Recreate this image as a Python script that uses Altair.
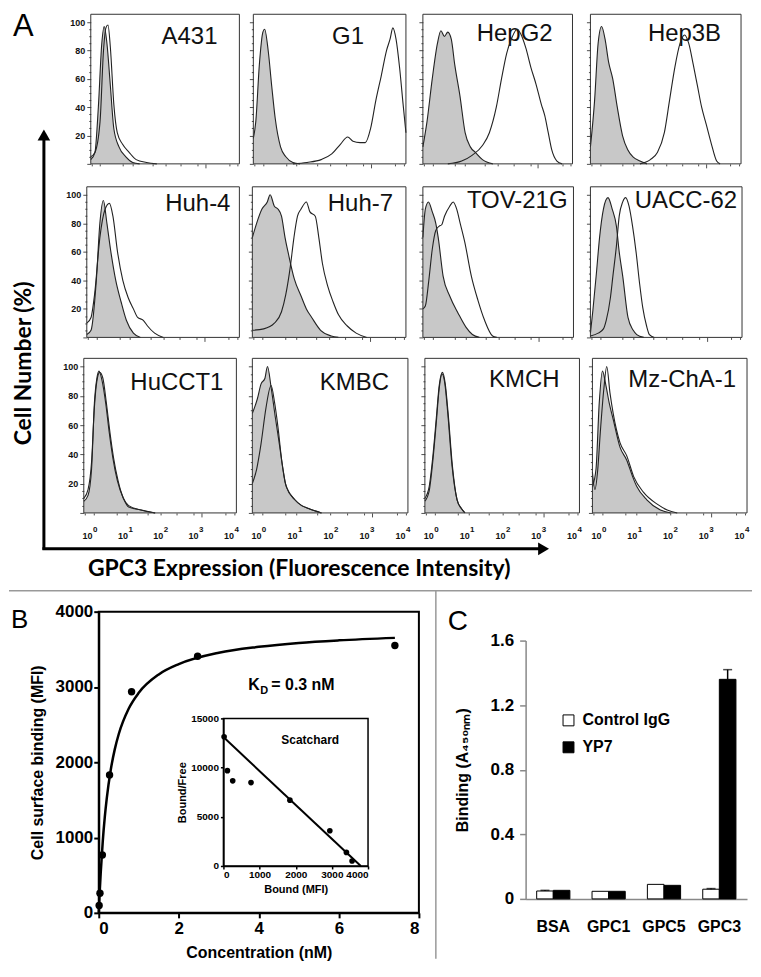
import math
import altair as alt
import pandas as pd

SANS = "Liberation Sans"
CAL = "Lato"

# ---------------- Panel A: flow histograms (x = log10 fluorescence, y = % of max)
A431_CTRL = [(-0.32, 3), (-0.2, 8), (-0.1, 40), (0.0, 85), (0.07, 97), (0.15, 85), (0.25, 55), (0.35, 25), (0.5, 12), (0.7, 5), (0.9, 1), (1.1, 0)]
A431_GPC3 = [(-0.32, 5), (-0.2, 8), (-0.05, 30), (0.05, 80), (0.12, 96), (0.18, 98), (0.25, 82), (0.35, 42), (0.45, 22), (0.6, 14), (0.8, 8), (1.0, 3), (1.3, 1), (1.6, 0)]
G1_CTRL = [(-0.32, 18), (-0.25, 30), (-0.15, 70), (-0.05, 93), (0.0, 95), (0.1, 80), (0.2, 55), (0.3, 32), (0.45, 12), (0.6, 5), (0.8, 1), (1.0, 0)]
G1_GPC3 = [(0.8, 0), (1.2, 1), (1.6, 3), (1.9, 7), (2.15, 14), (2.35, 19), (2.5, 16), (2.7, 15), (2.85, 15), (3.0, 25), (3.15, 45), (3.3, 62), (3.45, 80), (3.55, 88), (3.63, 96), (3.72, 88), (3.82, 68), (3.92, 42), (4.0, 22)]
HEPG2_CTRL = [(-0.32, 12), (-0.2, 30), (-0.05, 60), (0.1, 85), (0.2, 94), (0.3, 90), (0.4, 93), (0.5, 88), (0.6, 70), (0.75, 48), (0.9, 22), (1.05, 12), (1.2, 8), (1.4, 3), (1.7, 0)]
HEPG2_GPC3 = [(0.4, 0), (0.8, 2), (1.1, 6), (1.4, 13), (1.6, 22), (1.8, 40), (1.95, 60), (2.1, 78), (2.25, 89), (2.4, 95), (2.5, 92), (2.65, 82), (2.8, 68), (2.95, 56), (3.1, 42), (3.2, 34), (3.3, 22), (3.4, 10), (3.55, 2), (3.7, 0)]
HEP3B_CTRL = [(-0.32, 12), (-0.2, 45), (-0.1, 85), (0.0, 97), (0.1, 88), (0.2, 72), (0.32, 60), (0.45, 40), (0.6, 20), (0.75, 10), (0.9, 5), (1.1, 2), (1.3, 0)]
HEP3B_GPC3 = [(1.1, 0), (1.4, 3), (1.6, 8), (1.8, 22), (1.95, 45), (2.1, 68), (2.25, 85), (2.38, 91), (2.5, 85), (2.63, 70), (2.75, 55), (2.87, 40), (3.0, 28), (3.15, 14), (3.3, 2), (3.4, 0)]
HUH4_CTRL = [(-0.32, 2), (-0.2, 5), (-0.05, 40), (0.05, 80), (0.15, 96), (0.25, 80), (0.35, 62), (0.5, 40), (0.65, 25), (0.8, 12), (1.0, 3), (1.2, 0)]
HUH4_GPC3 = [(-0.32, 10), (-0.2, 14), (-0.1, 30), (0.05, 70), (0.2, 90), (0.32, 94), (0.42, 85), (0.55, 60), (0.7, 40), (0.85, 28), (1.0, 20), (1.12, 14), (1.28, 12), (1.4, 8), (1.6, 3), (1.85, 0)]
HUH7_CTRL = [(-0.32, 70), (-0.2, 80), (-0.05, 90), (0.1, 95), (0.18, 100), (0.3, 92), (0.4, 90), (0.5, 85), (0.6, 70), (0.7, 58), (0.86, 41), (1.05, 29), (1.2, 20), (1.35, 14), (1.6, 5), (1.9, 1), (2.1, 0)]
HUH7_GPC3 = [(-0.32, 5), (0.0, 6), (0.3, 10), (0.5, 18), (0.62, 30), (0.75, 50), (0.85, 70), (0.95, 85), (1.05, 90), (1.2, 95), (1.3, 88), (1.45, 85), (1.55, 70), (1.65, 52), (1.8, 36), (1.95, 25), (2.1, 16), (2.35, 8), (2.6, 3), (2.9, 0)]
TOV_CTRL = [(-0.32, 70), (-0.25, 90), (-0.16, 95), (-0.05, 88), (0.05, 80), (0.12, 70), (0.26, 43), (0.45, 29), (0.69, 17), (0.92, 7), (1.1, 2), (1.3, 0)]
TOV_GPC3 = [(-0.32, 20), (-0.25, 22), (-0.15, 40), (-0.05, 62), (0.05, 75), (0.15, 78), (0.22, 79), (0.3, 85), (0.45, 92), (0.55, 95), (0.65, 90), (0.75, 80), (0.88, 67), (1.07, 43), (1.26, 26), (1.45, 12), (1.68, 1), (1.8, 0)]
UACC_CTRL = [(-0.32, 3), (-0.25, 19), (-0.15, 45), (-0.06, 70), (0.05, 90), (0.18, 98), (0.3, 90), (0.42, 78), (0.5, 60), (0.6, 43), (0.75, 14), (0.9, 5), (1.0, 2), (1.2, 0)]
UACC_GPC3 = [(-0.32, 1), (-0.1, 3), (0.05, 6), (0.13, 12), (0.25, 28), (0.32, 43), (0.42, 64), (0.5, 85), (0.6, 95), (0.68, 98), (0.78, 92), (0.88, 78), (0.98, 60), (1.08, 38), (1.17, 21), (1.28, 8), (1.36, 2), (1.5, 0)]
HUCCT1_CTRL = [(-0.32, 8), (-0.2, 12), (-0.1, 30), (-0.02, 75), (0.05, 92), (0.11, 97), (0.2, 90), (0.3, 75), (0.4, 55), (0.5, 38), (0.63, 22), (0.8, 10), (0.95, 4), (1.3, 2), (1.7, 0)]
HUCCT1_GPC3 = [(-0.32, 10), (-0.2, 16), (-0.1, 35), (-0.02, 72), (0.05, 90), (0.13, 96), (0.22, 92), (0.32, 75), (0.42, 55), (0.52, 38), (0.65, 22), (0.8, 10), (0.95, 5), (1.3, 2), (1.7, 0)]
KMBC_CTRL = [(-0.32, 68), (-0.18, 78), (-0.08, 88), (0.03, 92), (0.1, 100), (0.2, 86), (0.32, 65), (0.43, 47), (0.53, 30), (0.62, 18), (0.86, 9), (1.05, 5), (1.24, 3), (1.6, 0)]
KMBC_GPC3 = [(-0.32, 20), (-0.2, 30), (-0.08, 47), (0.06, 72), (0.2, 87), (0.3, 75), (0.39, 59), (0.5, 35), (0.6, 20), (0.86, 9), (1.05, 5), (1.24, 3), (1.6, 0)]
KMCH_CTRL = [(-0.32, 8), (-0.2, 15), (-0.1, 35), (0.0, 62), (0.08, 85), (0.16, 95), (0.24, 88), (0.32, 68), (0.44, 32), (0.58, 9), (0.7, 3), (0.8, 0)]
KMCH_GPC3 = [(-0.32, 10), (-0.2, 18), (-0.1, 38), (0.0, 65), (0.08, 87), (0.17, 96), (0.25, 88), (0.33, 68), (0.45, 32), (0.58, 9), (0.7, 3), (0.8, 0)]
MZ_CTRL = [(-0.32, 18), (-0.22, 30), (-0.13, 75), (-0.04, 97), (0.05, 88), (0.15, 75), (0.26, 64), (0.45, 45), (0.64, 36), (0.8, 25), (0.92, 18), (1.2, 9), (1.58, 2), (1.87, 0)]
MZ_GPC3 = [(-0.32, 28), (-0.25, 16), (-0.17, 30), (-0.1, 55), (0.0, 85), (0.08, 100), (0.17, 82), (0.26, 68), (0.45, 48), (0.64, 39), (0.83, 25), (1.11, 14), (1.49, 6), (1.77, 2), (2.05, 0)]

HIST_GRID = [["A431", "G1", "HepG2", "Hep3B"],
             ["Huh-4", "Huh-7", "TOV-21G", "UACC-62"],
             ["HuCCT1", "KMBC", "KMCH", "Mz-ChA-1"]]
HIST_DATA = {
    "A431": (A431_CTRL, A431_GPC3), "G1": (G1_CTRL, G1_GPC3),
    "HepG2": (HEPG2_CTRL, HEPG2_GPC3), "Hep3B": (HEP3B_CTRL, HEP3B_GPC3),
    "Huh-4": (HUH4_CTRL, HUH4_GPC3), "Huh-7": (HUH7_CTRL, HUH7_GPC3),
    "TOV-21G": (TOV_CTRL, TOV_GPC3), "UACC-62": (UACC_CTRL, UACC_GPC3),
    "HuCCT1": (HUCCT1_CTRL, HUCCT1_GPC3), "KMBC": (KMBC_CTRL, KMBC_GPC3),
    "KMCH": (KMCH_CTRL, KMCH_GPC3), "Mz-ChA-1": (MZ_CTRL, MZ_GPC3),
}
DECADES = [0, 1, 2, 3, 4]
DECADE_EXP = ["0", "1", "2", "3", "4"]

# ---------------- Panel B: saturation binding + Scatchard inset
CONC_NM = [0.01, 0.03, 0.09, 0.27, 0.82, 2.47, 7.4]
MFI = [97, 261, 768, 1832, 2936, 3408, 3550]
FIT_X = [0, 0.02, 0.05, 0.1, 0.15, 0.2, 0.3, 0.4, 0.5, 0.75, 1, 1.5, 2, 3, 4, 5, 6, 7.4]
FIT_Y = [0, 240, 540, 950, 1267, 1520, 1900, 2171, 2375, 2714, 2923, 3167, 3304, 3455, 3533, 3585, 3619, 3652]
SC_BOUND = [19, 110, 257, 763, 1839, 2943, 3402, 3558]
SC_RATIO = [13135, 9690, 8650, 8475, 6690, 3580, 1380, 510]
SC_LINE_X = [0, 3800]
SC_LINE_Y = [13100, 0]

# ---------------- Panel C: ELISA binding
CATS = ["BSA", "GPC1", "GPC5", "GPC3"]
SERIES = ["Control IgG", "YP7"]
CTRL_IGG = [0.049, 0.047, 0.090, 0.060]
YP7 = [0.053, 0.047, 0.084, 1.36]
CTRL_ERR = [0.004, 0.0, 0.0, 0.004]
YP7_ERR = [0.0, 0.0, 0.0, 0.06]

# ---------------- layout (pixels inside one 745 x 960 canvas)
W, H = 745, 960
PANEL_X = [[(82, 231), (245, 398), (415, 565), (583, 734)],
           [(78, 231), (244, 398), (415, 566), (583, 735)],
           [(75, 228), (244, 400), (417, 572), (585, 740)]]
PANEL_Y = [(5, 155), (178, 329), (350, 505)]
LABEL_OFF = [[(22, 30), (42, 30), (20, 27), (20, 27)],      # (from right edge, baseline from top)
             [(9, 24), (13, 24), (6, 21), (5, 21)],
             [(13, 32), (19, 32), (20, 29), (11, 29)]]
X_DOMAIN = [-0.32, 4.0]
Y_DOMAIN = [0, 105.6]
X_TICKS = sorted(set(round(k + math.log10(m), 4) for k in range(-1, 4) for m in range(1, 10)
                     if X_DOMAIN[0] <= k + math.log10(m) <= 4.0) | {4.0})
Y_TICKS = list(range(0, 101, 5))


def one(text="x"):
    return pd.DataFrame({"t": [text]})


def note(text, x, y, **kw):
    return alt.Chart(one(text)).mark_text(**kw).encode(x=alt.value(x), y=alt.value(y), text="t:N")


def vseg(x, y, y2, **kw):
    return alt.Chart(one()).mark_rule(**kw).encode(x=alt.value(x), y=alt.value(y), y2=alt.value(y2))


def hseg(x, x2, y, **kw):
    return alt.Chart(one()).mark_rule(**kw).encode(x=alt.value(x), x2=alt.value(x2), y=alt.value(y))


def hist_panel(r, c):
    name = HIST_GRID[r][c]
    ctrl, gpc3 = HIST_DATA[name]
    L, R = PANEL_X[r][c]
    T, B = PANEL_Y[r]
    dc = pd.DataFrame(ctrl, columns=["x", "y"])
    dg = pd.DataFrame(gpc3, columns=["x", "y"])
    xa = alt.Axis(orient="bottom", offset=B - H, values=X_TICKS, title=None, grid=False, domain=False,
                  labels=False, tickColor="#222", tickWidth=0.8,
                  tickSize={"condition": {"test": "datum.value % 1 === 0", "value": 4}, "value": 2})
    ya = alt.Axis(orient="left", offset=-L, values=Y_TICKS, title=None, grid=False, domain=False,
                  labels=(c == 0),
                  labelExpr="datum.value % 20 === 0 && datum.value > 0 ? datum.label : ''",
                  labelFont=SANS, labelFontSize=9, labelFontWeight="bold", labelColor="#111",
                  labelPadding=2, tickColor="#222", tickWidth=0.8, labelOverlap=False,
                  tickSize={"condition": {"test": "datum.value % 20 === 0", "value": 4}, "value": 2})
    xs = alt.Scale(domain=X_DOMAIN, range=[L, R], nice=False, zero=False)
    ys = alt.Scale(domain=Y_DOMAIN, range=[B, T], nice=False)
    area = alt.Chart(dc).mark_area(color="#c8c8c8", interpolate="monotone").encode(
        x=alt.X("x:Q", scale=xs, axis=xa), y=alt.Y("y:Q", scale=ys, axis=ya))
    off_r, off_b = LABEL_OFF[r][c]
    lbl = note(name, R - off_r, T + off_b, align="right", baseline="alphabetic",
               font=SANS, fontSize=24, color="#111")
    gl = alt.Chart(dg).mark_line(color="#222", strokeWidth=1.1, interpolate="monotone").encode(x="x:Q", y="y:Q")
    cl = alt.Chart(dc).mark_line(color="#222", strokeWidth=1.1, interpolate="monotone").encode(x="x:Q", y="y:Q")
    frame = alt.Chart(pd.DataFrame({"x0": [X_DOMAIN[0]], "x1": [X_DOMAIN[1]], "y0": [0], "y1": [Y_DOMAIN[1]]})).mark_rect(
        fillOpacity=0, stroke="#333", strokeWidth=1).encode(x="x0:Q", x2="x1:Q", y="y0:Q", y2="y1:Q")
    layers = [area, lbl, gl, cl, frame]
    if r == 2:
        dd = pd.DataFrame({"d": DECADES, "e": DECADE_EXP})
        layers.append(alt.Chart(dd).mark_text(align="right", baseline="alphabetic", dx=-2.5, font=SANS,
                                              fontSize=9, fontWeight="bold", color="#111").encode(
            x="d:Q", y=alt.value(B + 26), text=alt.value("10")))
        layers.append(alt.Chart(dd).mark_text(align="left", baseline="alphabetic", dx=-2, font=SANS,
                                              fontSize=8, fontWeight="bold", color="#111").encode(
            x="d:Q", y=alt.value(B + 19), text="e:N"))
    return alt.layer(*layers)


hist_layers = [hist_panel(r, c) for r in range(3) for c in range(4)]

decor = [
    note("A", 4, 27, align="left", baseline="alphabetic", font=SANS, fontSize=31, color="black"),
    vseg(35, 126, 542, color="black", strokeWidth=3),
    hseg(33.5, 535, 541, color="black", strokeWidth=3),
    alt.Chart(one()).mark_point(shape="triangle-up", filled=True, size=160, color="black", opacity=1).encode(
        x=alt.value(35), y=alt.value(126)),
    alt.Chart(one()).mark_point(shape="triangle-right", filled=True, size=160, color="black", opacity=1).encode(
        x=alt.value(536), y=alt.value(541)),
    note("Cell Number (%)", 15, 355, angle=270, align="center", baseline="middle",
         font=CAL, fontWeight="bold", fontSize=23, color="black"),
    note("GPC3 Expression (Fluorescence Intensity)", 291, 561, align="center", baseline="middle",
         font=CAL, fontWeight="bold", fontSize=23, color="black"),
    hseg(0, 745, 583, color="#999", strokeWidth=1.5),
    vseg(428, 583, 952, color="#999", strokeWidth=1.5),
    note("B", 2, 620, align="left", baseline="alphabetic", font=SANS, fontSize=26, color="black"),
    note("C", 440, 622, align="left", baseline="alphabetic", font=SANS, fontSize=28, color="black"),
    note("K", 240, 683, align="left", baseline="alphabetic", font=SANS, fontWeight="bold", fontSize=16, color="black"),
    note("D", 252, 687, align="left", baseline="alphabetic", font=SANS, fontWeight="bold", fontSize=11, color="black"),
    note("= 0.3 nM", 263, 683, align="left", baseline="alphabetic", font=SANS, fontWeight="bold", fontSize=16, color="black"),
    note("Scatchard", 302, 737, align="center", baseline="alphabetic", font=SANS, fontWeight="bold", fontSize=12, color="black"),
]

# ---------------- Panel B
BL, BR, BT, BB = 90, 411, 604, 906
axis_style = dict(grid=False, domainColor="black", tickColor="black", labelFont=SANS,
                  labelFontWeight="bold", labelColor="black", titleFont=SANS, titleFontWeight="bold",
                  titleColor="black", format="d", labelOverlap=False)
b_xaxis = alt.Axis(orient="bottom", offset=BB - H, values=[0, 2, 4, 6, 8], title="Concentration (nM)",
                   domainWidth=2, tickWidth=2, tickSize=5, labelFontSize=17, labelPadding=3,
                   titleFontSize=16, titlePadding=8, **axis_style)
b_yaxis = alt.Axis(orient="left", offset=-BL, values=[0, 1000, 2000, 3000, 4000],
                   title="Cell surface binding (MFI)", domainWidth=2, tickWidth=2, tickSize=5,
                   labelFontSize=17, labelPadding=1, titleFontSize=16, titlePadding=10, **axis_style)
bx = alt.Scale(domain=[0, 8], range=[BL, BR], nice=False)
by = alt.Scale(domain=[0, 4000], range=[BB, BT], nice=False)
b_fit = alt.Chart(pd.DataFrame({"x": FIT_X, "y": FIT_Y})).mark_line(
    color="black", strokeWidth=2.5, interpolate="monotone").encode(
    x=alt.X("x:Q", scale=bx, axis=b_xaxis), y=alt.Y("y:Q", scale=by, axis=b_yaxis))
b_pts = alt.Chart(pd.DataFrame({"x": CONC_NM, "y": MFI})).mark_circle(
    size=55, color="black", opacity=1).encode(x="x:Q", y="y:Q")
b_frame = alt.Chart(pd.DataFrame({"x0": [0], "x1": [8], "y0": [0], "y1": [4000]})).mark_rect(
    fillOpacity=0, stroke="black", strokeWidth=2).encode(x="x0:Q", x2="x1:Q", y="y0:Q", y2="y1:Q")
b_layer = alt.layer(b_fit, b_pts, b_frame)

SL, SR, ST, SB = 215, 360, 711, 859
sc_style = dict(grid=False, domainColor="black", tickColor="black", labelFont=SANS, labelFontWeight="bold",
                labelColor="black", titleFont=SANS, titleFontWeight="bold", titleColor="black",
                domainWidth=1.5, tickWidth=1.5, tickSize=3, labelFontSize=10, titleFontSize=11,
                labelOverlap=False, format="d")
sc_xaxis = alt.Axis(orient="bottom", offset=SB - H, values=[0, 1000, 2000, 3000, 4000], title="Bound (MFI)",
                    labelPadding=1, titlePadding=4, **sc_style)
sc_yaxis = alt.Axis(orient="left", offset=-SL, values=[0, 5000, 10000, 15000], title="Bound/Free",
                    labelPadding=2, titlePadding=3, **sc_style)
sx = alt.Scale(domain=[0, 4000], range=[SL, SR], nice=False)
sy = alt.Scale(domain=[0, 15000], range=[SB, ST], nice=False)
sc_line = alt.Chart(pd.DataFrame({"x": SC_LINE_X, "y": SC_LINE_Y})).mark_line(
    color="black", strokeWidth=2).encode(x=alt.X("x:Q", scale=sx, axis=sc_xaxis),
                                         y=alt.Y("y:Q", scale=sy, axis=sc_yaxis))
sc_pts = alt.Chart(pd.DataFrame({"x": SC_BOUND, "y": SC_RATIO})).mark_circle(
    size=32, color="black", opacity=1).encode(x="x:Q", y="y:Q")
sc_frame = alt.Chart(pd.DataFrame({"x0": [0], "x1": [4000], "y0": [0], "y1": [15000]})).mark_rect(
    fillOpacity=0, stroke="black", strokeWidth=1.5).encode(x="x0:Q", x2="x1:Q", y="y0:Q", y2="y1:Q")
inset = alt.layer(sc_line, sc_pts, sc_frame)

# ---------------- Panel C
CL, CR, CT, CB = 518, 740, 633, 892
dfc = pd.DataFrame({
    "cat": CATS + CATS,
    "series": [SERIES[0]] * 4 + [SERIES[1]] * 4,
    "value": CTRL_IGG + YP7,
    "err": CTRL_ERR + YP7_ERR,
})
dfc["top"] = dfc["value"] + dfc["err"]
c_style = dict(grid=False, domainColor="#888", domainWidth=1.5, labelFont=SANS, labelFontWeight="bold",
               labelColor="black", titleFont=SANS, titleFontWeight="bold", titleColor="black")
c_x = alt.X("cat:N", sort=CATS, scale=alt.Scale(range=[CL, CR], paddingInner=0.4, paddingOuter=0.2),
            axis=alt.Axis(orient="bottom", offset=CB - H, title=None, ticks=False, labelAngle=0,
                          labelFontSize=16, labelPadding=20, **c_style))
c_xo = alt.XOffset("series:N", sort=SERIES)
c_y = alt.Y("value:Q", scale=alt.Scale(domain=[0, 1.6], range=[CB, CT], nice=False),
            axis=alt.Axis(orient="left", offset=-CL, values=[0, 0.4, 0.8, 1.2, 1.6],
                          labelExpr="datum.value === 0 ? '0' : format(datum.value, '.1f')",
                          title="Binding (A₄₅₀ₙₘ)", tickColor="#888", tickWidth=1.5, tickSize=6,
                          labelPadding=6, labelFontSize=17, titleFontSize=16, titlePadding=20, **c_style))
c_bars = alt.Chart(dfc).mark_bar(stroke="black", strokeWidth=1).encode(
    x=c_x, xOffset=c_xo, y=c_y,
    color=alt.Color("series:N", sort=SERIES, scale=alt.Scale(domain=SERIES, range=["white", "black"]),
                    legend=alt.Legend(orient="none", legendX=553, legendY=705, title=None, symbolType="square",
                                      symbolSize=120, symbolStrokeColor="black", symbolStrokeWidth=1,
                                      labelFont=SANS, labelFontSize=16, labelFontWeight="bold",
                                      labelColor="black", rowPadding=11, labelOffset=6)))
c_err = alt.Chart(dfc).transform_filter("datum.err > 0").mark_rule(color="black", strokeWidth=1.5).encode(
    x=alt.X("cat:N", sort=CATS), xOffset=c_xo, y="value:Q", y2="top:Q")
c_cap = alt.Chart(dfc).transform_filter("datum.err > 0").mark_tick(color="black", thickness=1.5, size=9).encode(
    x=alt.X("cat:N", sort=CATS), xOffset=c_xo, y="top:Q")
c_layer = alt.layer(c_bars, c_err, c_cap)

chart = alt.layer(*hist_layers, b_layer, inset, c_layer, *decor).resolve_scale(
    x="independent", y="independent"
).properties(
    width=W, height=H, padding={"left": 0, "top": 0, "right": 0, "bottom": 0}
).configure_view(stroke=None)

chart.save("out.html", embed_options={"renderer": "svg", "actions": False})
